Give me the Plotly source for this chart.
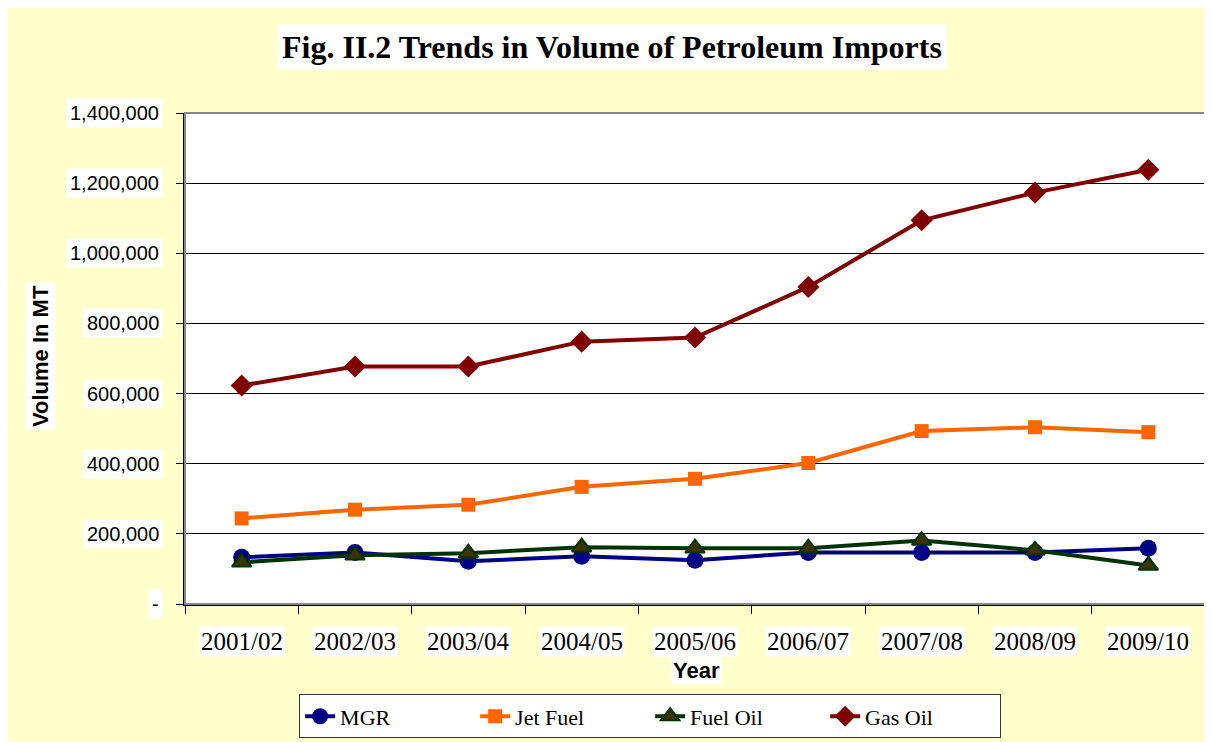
import plotly.graph_objects as go

years = ["2001/02", "2002/03", "2003/04", "2004/05", "2005/06",
         "2006/07", "2007/08", "2008/09", "2009/10"]
mgr = [133000, 147000, 122000, 136000, 125000, 147000, 147000, 147000, 159000]
jet_fuel = [244000, 269000, 283000, 334000, 357000, 402000, 493000, 504000, 490000]
fuel_oil = [119000, 139000, 145000, 162000, 159000, 159000, 181000, 153000, 110000]
gas_oil = [623000, 677000, 677000, 748000, 760000, 904000, 1094000, 1173000, 1238000]

y_ticks = [0, 200000, 400000, 600000, 800000, 1000000, 1200000, 1400000]
y_tick_labels = ["-", "200,000", "400,000", "600,000", "800,000",
                 "1,000,000", "1,200,000", "1,400,000"]

fig = go.Figure()
series = [
    ("MGR", mgr, "#000080", dict(symbol="circle", size=17, color="#000080")),
    ("Jet Fuel", jet_fuel, "#FF6600", dict(symbol="square", size=14, color="#FF6600")),
    ("Fuel Oil", fuel_oil, "#003300",
     dict(symbol="triangle-up", size=17, color="#3B3300", line=dict(color="#003300", width=2))),
    ("Gas Oil", gas_oil, "#800000", dict(symbol="diamond", size=17, color="#800000")),
]
for name, vals, col, mk in series:
    fig.add_trace(go.Scatter(x=years, y=vals, name=name, mode="lines+markers",
                             line=dict(color=col, width=4), marker=mk))

annotations = []
for v, lab in zip(y_ticks, y_tick_labels):
    annotations.append(dict(xref="paper", yref="y", x=0, y=v, xshift=-22,
                            xanchor="right", yanchor="middle", text=lab, showarrow=False,
                            font=dict(family="Arial, Liberation Sans", size=20, color="black"),
                            bgcolor="white", borderpad=3))
for yr in years:
    annotations.append(dict(xref="x", yref="paper", x=yr, y=0, yshift=-37,
                            xanchor="center", yanchor="middle", text=yr, showarrow=False,
                            font=dict(family="Liberation Serif, Times New Roman", size=25, color="black"),
                            bgcolor="white", borderpad=1))
annotations.append(dict(xref="paper", yref="paper", x=0, y=0, xshift=-145, yshift=248,
                        text="<b>Volume In MT</b>", textangle=-90, showarrow=False,
                        xanchor="center", yanchor="middle",
                        font=dict(family="Arial, Liberation Sans", size=22, color="black"),
                        bgcolor="white", borderpad=2))
annotations.append(dict(xref="paper", yref="paper", x=0.501, y=0, yshift=-66,
                        text="<b>Year</b>", showarrow=False, xanchor="center", yanchor="middle",
                        font=dict(family="Arial, Liberation Sans", size=22, color="black"),
                        bgcolor="white", borderpad=1))
annotations.append(dict(xref="paper", yref="paper", x=0.4186, y=1, yshift=66,
                        text="<b>Fig. II.2 Trends in Volume of Petroleum Imports</b>",
                        showarrow=False, xanchor="center", yanchor="middle",
                        font=dict(family="Liberation Serif, Times New Roman", size=32, color="black"),
                        bgcolor="white", borderpad=4))

fig.update_layout(
    width=1212, height=742,
    paper_bgcolor="#FFFFCC", plot_bgcolor="white",
    margin=dict(l=177, r=15, t=105, b=140),
    showlegend=True,
    legend=dict(orientation="h", x=0.456, y=-0.229, xanchor="center", yanchor="middle",
                bgcolor="white", bordercolor="#333333", borderwidth=1,
                entrywidth=130, entrywidthmode="pixels",
                font=dict(family="Liberation Serif, Times New Roman", size=22, color="black")),
    annotations=annotations,
    shapes=[dict(type="rect", xref="paper", yref="paper", x0=0, y0=0, x1=1, y1=1,
                 line=dict(color="#888888", width=2), layer="above")],
)
fig.update_xaxes(type="category", range=[-0.5, 8.5], showticklabels=False,
                 tickson="boundaries", ticks="outside", ticklen=8, tickcolor="black",
                 showline=True, linecolor="black", linewidth=2, showgrid=False, zeroline=False)
fig.update_yaxes(range=[0, 1400000], tickvals=y_ticks, showticklabels=False,
                 ticks="outside", ticklen=7, tickcolor="black",
                 showline=True, linecolor="black", linewidth=2,
                 showgrid=True, gridcolor="black", gridwidth=1, zeroline=False)

fig.write_html("out.html")
